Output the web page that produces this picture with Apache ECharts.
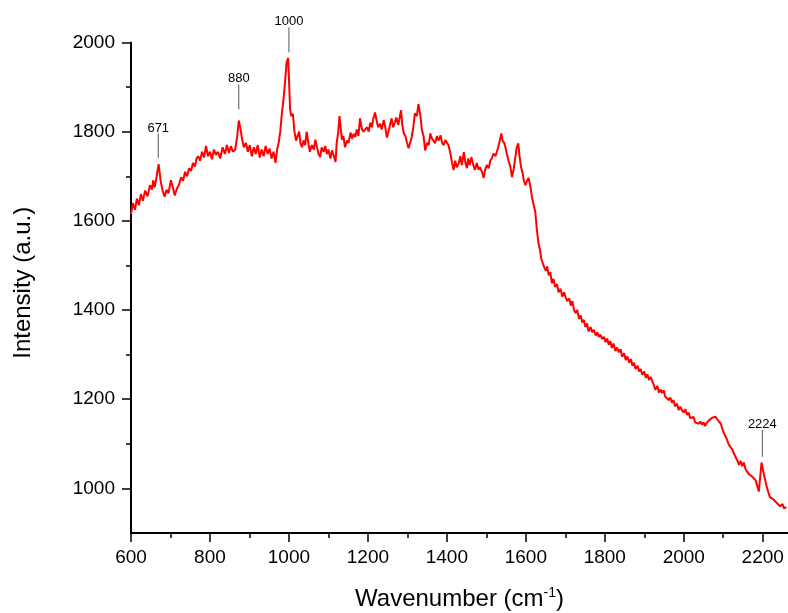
<!DOCTYPE html>
<html>
<head>
<meta charset="utf-8">
<script src="https://cdn.jsdelivr.net/npm/echarts@6/dist/echarts.min.js"></script>
<style>
html,body{margin:0;padding:0;background:#fff;overflow:hidden;}
#chart{width:788px;height:613px;}
</style>
</head>
<body>
<div id="chart"></div>
<script>
// Wavenumber (cm-1) and intensity (a.u.)
const wavenumbers = [
600,605,610,615,620,625,630,636,642,648,653,656,660,665,670,675,680,685,690,695,
701,706,711,716,721,727,732,737,742,747,752,757,762,766,770,775,780,785,790,795,
800,805,810,815,820,826,832,838,843,848,853,858,864,869,873,877,882,886,891,896,
901,906,911,916,921,926,931,936,941,946,951,956,961,966,970,974,978,982,986,990,
994,998,1000,1003,1006,1010,1014,1018,1022,1026,1029,1033,1037,1041,1045,1049,1053,1058,1063,1067,
1071,1075,1079,1083,1088,1092,1096,1100,1105,1109,1114,1118,1121,1125,1128,1131,1134,1138,1142,1147,
1151,1156,1160,1164,1168,1172,1176,1180,1185,1189,1193,1198,1202,1206,1210,1214,1218,1222,1226,1231,
1235,1240,1244,1248,1252,1256,1260,1264,1268,1272,1277,1281,1284,1287,1291,1295,1299,1303,1307,1311,
1315,1319,1324,1328,1333,1337,1341,1345,1350,1354,1358,1362,1366,1370,1375,1379,1384,1388,1392,1396,
1400,1404,1409,1413,1417,1421,1425,1430,1434,1438,1443,1447,1451,1454,1458,1462,1467,1471,1476,1480,
1484,1489,1493,1497,1501,1506,1510,1514,1518,1523,1527,1530,1534,1538,1541,1545,1549,1552,1556,1561,
1565,1569,1573,1577,1581,1584,1588,1592,1595,1599,1603,1607,1612,1616,1620,1624,1628,1632,1636,1639,
1643,1647,1651,1654,1658,1662,1666,1670,1674,1679,1683,1688,1692,1697,1701,1705,1710,1714,1718,1722,
1726,1730,1735,1739,1743,1747,1751,1755,1759,1764,1768,1772,1777,1781,1785,1789,1793,1798,1802,1806,
1810,1814,1818,1822,1827,1831,1836,1840,1844,1849,1853,1857,1862,1866,1870,1874,1878,1883,1887,1891,
1895,1900,1904,1908,1912,1916,1920,1924,1928,1933,1937,1941,1945,1949,1953,1958,1962,1966,1970,1974,
1978,1983,1987,1991,1995,2000,2004,2008,2012,2016,2021,2025,2029,2033,2038,2042,2046,2050,2054,2058,
2063,2067,2071,2076,2080,2085,2089,2094,2097,2101,2106,2110,2114,2119,2123,2126,2131,2136,2140,2144,
2148,2152,2157,2161,2165,2170,2174,2178,2182,2186,2190,2194,2197,2199,2202,2206,2210,2214,2218,2222,
2227,2231,2235,2240,2244,2250,2254,2260,2266
];
const intensity = [
1615,1640,1625,1650,1635,1660,1645,1668,1655,1680,1670,1691,1675,1700,1727,1690,1668,1654,1670,1662,
1691,1675,1657,1672,1680,1698,1690,1710,1700,1718,1712,1730,1722,1740,1745,1735,1755,1742,1768,1745,
1755,1738,1760,1748,1755,1740,1765,1750,1770,1752,1768,1755,1760,1790,1825,1808,1780,1765,1775,1755,
1770,1745,1765,1750,1770,1742,1760,1745,1768,1750,1762,1740,1755,1730,1760,1775,1800,1840,1870,1910,
1955,1965,1920,1850,1835,1840,1800,1780,1790,1800,1775,1765,1780,1770,1800,1775,1755,1770,1760,1782,
1765,1750,1743,1765,1755,1768,1750,1760,1740,1758,1745,1732,1775,1800,1835,1810,1782,1790,1765,1780,
1775,1798,1785,1795,1788,1805,1790,1830,1805,1800,1796,1810,1800,1820,1810,1830,1843,1825,1810,1818,
1805,1826,1810,1787,1800,1815,1830,1810,1820,1832,1815,1835,1848,1815,1796,1790,1775,1763,1775,1788,
1810,1841,1835,1862,1835,1803,1790,1758,1775,1770,1796,1785,1780,1774,1790,1780,1792,1775,1770,1781,
1780,1770,1751,1730,1714,1735,1720,1729,1745,1725,1754,1730,1718,1740,1725,1743,1725,1714,1730,1715,
1720,1710,1696,1715,1725,1718,1735,1740,1751,1745,1743,1765,1780,1796,1780,1775,1763,1750,1736,1720,
1698,1715,1740,1765,1774,1745,1720,1707,1690,1680,1690,1696,1675,1650,1646,1620,1579,1550,1534,1515,
1505,1495,1488,1498,1478,1485,1460,1470,1452,1458,1440,1448,1430,1440,1428,1420,1426,1410,1420,1400,
1393,1400,1380,1388,1372,1378,1362,1370,1352,1362,1350,1356,1343,1350,1340,1345,1335,1340,1328,1336,
1322,1330,1315,1325,1308,1316,1305,1312,1295,1303,1288,1296,1282,1290,1275,1282,1268,1275,1262,1268,
1255,1262,1248,1256,1243,1250,1248,1232,1221,1230,1215,1222,1214,1220,1206,1210,1198,1204,1192,1198,
1184,1190,1176,1183,1176,1170,1178,1165,1170,1158,1154,1160,1148,1152,1145,1150,1143,1148,1140,1147,
1152,1155,1158,1162,1161,1165,1150,1145,1136,1125,1116,1108,1098,1092,1087,1080,1071,1062,1053,1062,
1050,1058,1042,1038,1032,1035,1026,1022,1018,1015,993,1030,1058,1050,1035,1020,1004,992,981,985,
975,978,968,972,960,965,955,958
];
// Peak annotations
const peakPositions = [669, 873, 1000, 2199];
const peakLabels = ['671', '880', '1000', '2224'];
const peakLineBottom = [1740, 1850, 1978, 1071];
const peakLineTop = [1796, 1906, 2034, 1131];

// Tick values
const xTickValues = [600, 800, 1000, 1200, 1400, 1600, 1800, 2000, 2200];
const xMinorTickValues = [700, 900, 1100, 1300, 1500, 1700, 1900, 2100];
const yTickValues = [1000, 1200, 1400, 1600, 1800, 2000];
const yMinorTickValues = [1100, 1300, 1500, 1700, 1900];

const seriesData = wavenumbers.map((w, i) => [w, intensity[i]]);
const peakLineData = [];
peakPositions.forEach((p, i) => {
  peakLineData.push([p, peakLineBottom[i]], [p, peakLineTop[i]], [p, '-']);
});
const peakTextData = peakPositions.map((p, i) => ({value: [p, peakLineTop[i]], name: peakLabels[i]}));

const X_MIN = 600, X_MAX = 2264, Y_MIN = 900, Y_MAX = 2000;
const fontFamily = '"Liberation Sans", Arial, sans-serif';
const tickStyle = {color: '#000', width: 1.5};
const plain = v => String(v);

const chart = echarts.init(document.getElementById('chart'), null, {renderer: 'canvas'});
chart.setOption({
  animation: false,
  backgroundColor: '#ffffff',
  grid: {left: 131, top: 42.5, bottom: 80, right: 0, containLabel: false, outerBoundsMode: 'none'},
  xAxis: [{
    type: 'value', min: X_MIN, max: X_MAX,
    name: 'Wavenumber (cm{sup|-1})',
    nameLocation: 'middle', nameGap: 53,
    nameTextStyle: {fontSize: 24, color: '#000', fontFamily: fontFamily,
      rich: {sup: {fontSize: 14, verticalAlign: 'top', color: '#000', fontFamily: fontFamily, padding: [0, 0, 12, 0]}}},
    axisLine: {show: true, lineStyle: {color: '#000', width: 2}},
    axisTick: {show: true, inside: false, length: 9, customValues: xTickValues, lineStyle: tickStyle},
    splitLine: {show: false},
    axisLabel: {fontSize: 19, color: '#000', fontFamily: fontFamily, margin: 15, customValues: xTickValues, formatter: plain}
  }, {
    type: 'value', min: X_MIN, max: X_MAX, position: 'bottom', offset: 0,
    axisLine: {show: false},
    axisTick: {show: true, inside: false, length: 5, customValues: xMinorTickValues, lineStyle: tickStyle},
    axisLabel: {show: false}, splitLine: {show: false}
  }],
  yAxis: [{
    type: 'value', min: Y_MIN, max: Y_MAX,
    name: 'Intensity (a.u.)',
    nameLocation: 'middle', nameGap: 96, nameRotate: 90,
    nameTextStyle: {fontSize: 24, color: '#000', fontFamily: fontFamily, padding: [0, 0, 0, 10]},
    axisLine: {show: true, lineStyle: {color: '#000', width: 2}},
    axisTick: {show: true, inside: false, length: 9, customValues: yTickValues, lineStyle: tickStyle},
    splitLine: {show: false},
    axisLabel: {fontSize: 19, color: '#000', fontFamily: fontFamily, margin: 16, customValues: yTickValues, formatter: plain}
  }, {
    type: 'value', min: Y_MIN, max: Y_MAX, position: 'left', offset: 0,
    axisLine: {show: false},
    axisTick: {show: true, inside: false, length: 5, customValues: yMinorTickValues, lineStyle: tickStyle},
    axisLabel: {show: false}, splitLine: {show: false}
  }],
  series: [{
    name: 'Spectrum',
    type: 'line', data: seriesData, showSymbol: false, symbol: 'none', clip: false,
    xAxisIndex: 0, yAxisIndex: 0,
    lineStyle: {color: '#ff0000', width: 2}, itemStyle: {color: '#ff0000'},
    emphasis: {disabled: true}
  }, {
    name: 'PeakLines',
    type: 'line', data: peakLineData, showSymbol: false, symbol: 'none', clip: false,
    connectNulls: false, xAxisIndex: 0, yAxisIndex: 0,
    lineStyle: {color: '#555', width: 1}, emphasis: {disabled: true}
  }, {
    name: 'PeakText',
    type: 'scatter', data: peakTextData, symbolSize: 0.01, clip: false,
    xAxisIndex: 0, yAxisIndex: 0,
    itemStyle: {color: '#000', opacity: 1},
    label: {show: true, position: 'top', distance: -1, fontSize: 13, color: '#000', fontFamily: fontFamily,
      formatter: p => p.name},
    emphasis: {disabled: true}
  }]
});
</script>
</body>
</html>
